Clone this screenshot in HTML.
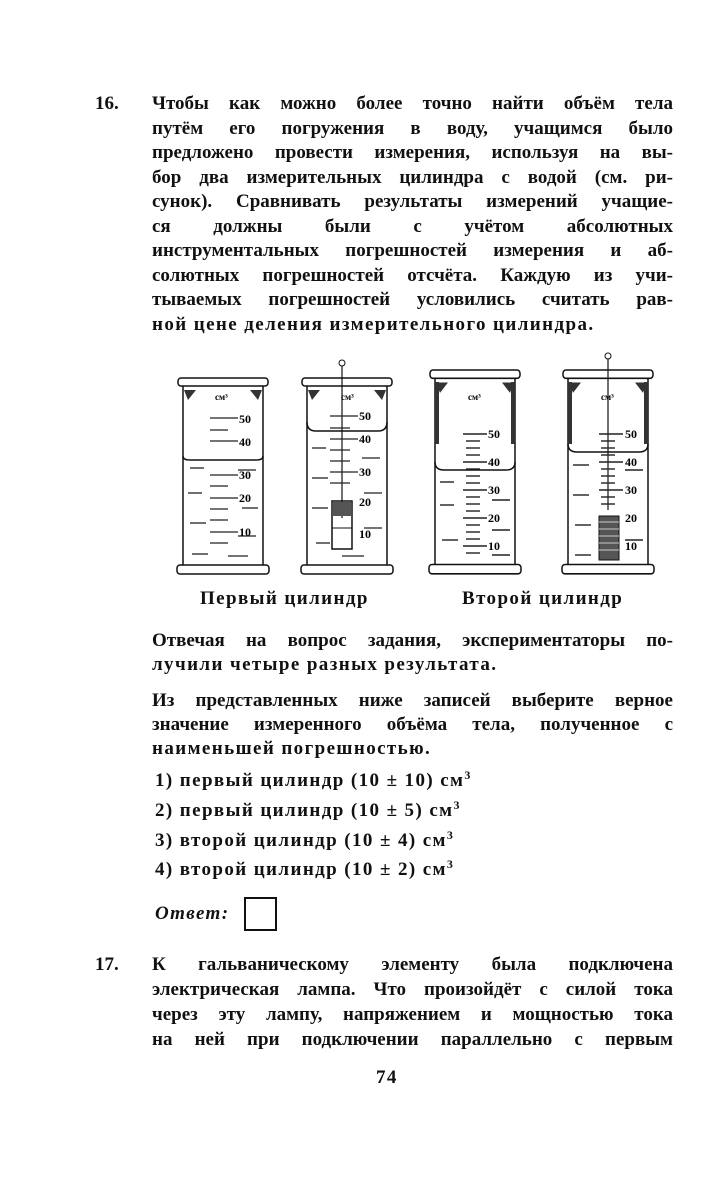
<!DOCTYPE html>
<html><head><meta charset="utf-8"><style>
body{margin:0;background:#fff;width:714px;height:1181px;position:relative;overflow:hidden;font-family:"Liberation Serif",serif;color:#111}
.l{position:absolute;left:152px;width:521px;font-size:19px;font-weight:bold;white-space:nowrap;text-align:justify;text-align-last:justify;line-height:22px}
.n{position:absolute;font-size:19px;font-weight:bold;line-height:22px}
.f{position:absolute;font-size:19px;font-weight:bold;white-space:nowrap;line-height:22px;letter-spacing:1.4px}
sup{font-size:12px;vertical-align:7px;line-height:0}
</style></head><body>
<div class="n" style="left:95px;top:93px">16.</div>
<div class="l" style="top:93px">Чтобы как можно более точно найти объём тела</div>
<div class="l" style="top:117.5px">путём его погружения в воду, учащимся было</div>
<div class="l" style="top:142px">предложено провести измерения, используя на вы-</div>
<div class="l" style="top:166.5px">бор два измерительных цилиндра с водой (см. ри-</div>
<div class="l" style="top:191px">сунок). Сравнивать результаты измерений учащие-</div>
<div class="l" style="top:215.5px">ся должны были с учётом абсолютных</div>
<div class="l" style="top:240px">инструментальных погрешностей измерения и аб-</div>
<div class="l" style="top:264.5px">солютных погрешностей отсчёта. Каждую из учи-</div>
<div class="l" style="top:289px">тываемых погрешностей условились считать рав-</div>
<div class="f" style="left:152px;top:313.5px">ной цене деления измерительного цилиндра.</div>

<svg style="position:absolute;left:0;top:0" width="714" height="600" font-family="Liberation Serif" font-size="12" font-weight="bold">
<defs>
<g id="cyl" fill="none" stroke="#111" stroke-width="1.5">
<rect x="0" y="0" width="90" height="8" rx="3"/>
<line x1="5" y1="8" x2="5" y2="187"/><line x1="85" y1="8" x2="85" y2="187"/>
<rect x="-1" y="187" width="92" height="9" rx="3"/>
<path d="M6 12 L18 12 L10 22 Z" fill="#333" stroke="none"/><path d="M84 12 L72 12 L80 22 Z" fill="#333" stroke="none"/>
</g>
</defs>
<g transform="translate(178,378)">
<use href="#cyl"/>
<path d="M5 78 Q5 82 12 82 L78 82 Q85 82 85 78" fill="none" stroke="#111" stroke-width="1.5"/>
<g stroke="#222" stroke-width="1.3">
<line x1="32" y1="40" x2="60" y2="40"/><line x1="32" y1="52" x2="50" y2="52"/><line x1="32" y1="63" x2="60" y2="63"/>
<line x1="32" y1="97" x2="60" y2="97"/><line x1="32" y1="108" x2="50" y2="108"/><line x1="32" y1="120" x2="60" y2="120"/>
<line x1="32" y1="131" x2="50" y2="131"/><line x1="32" y1="154" x2="60" y2="154"/><line x1="32" y1="165" x2="50" y2="165"/><line x1="32" y1="142" x2="50" y2="142"/>
<line x1="12" y1="90" x2="26" y2="90"/><line x1="60" y1="92" x2="78" y2="92"/><line x1="10" y1="115" x2="24" y2="115"/><line x1="64" y1="130" x2="80" y2="130"/><line x1="12" y1="145" x2="28" y2="145"/><line x1="60" y1="158" x2="78" y2="158"/><line x1="14" y1="176" x2="30" y2="176"/><line x1="50" y1="178" x2="70" y2="178"/>
</g>
<text x="37" y="22" font-size="9">см³</text>
<text x="61" y="45">50</text><text x="61" y="68">40</text><text x="61" y="101">30</text><text x="61" y="124">20</text><text x="61" y="158">10</text>
</g>
<g transform="translate(302,378)">
<use href="#cyl"/>
<circle cx="40" cy="-15" r="3" fill="none" stroke="#111"/><line x1="40" y1="-12" x2="40" y2="140" stroke="#111" stroke-width="1.2"/>
<path d="M5 44 Q5 53 14 53 L76 53 Q85 53 85 44" fill="none" stroke="#111" stroke-width="1.5"/>
<g stroke="#222" stroke-width="1.3">
<line x1="28" y1="38" x2="56" y2="38"/><line x1="28" y1="50" x2="48" y2="50"/><line x1="28" y1="61" x2="56" y2="61"/><line x1="28" y1="72" x2="48" y2="72"/><line x1="28" y1="83" x2="48" y2="83"/><line x1="28" y1="94" x2="56" y2="94"/><line x1="28" y1="105" x2="48" y2="105"/>
<line x1="10" y1="70" x2="24" y2="70"/><line x1="60" y1="80" x2="78" y2="80"/><line x1="10" y1="100" x2="26" y2="100"/><line x1="62" y1="115" x2="80" y2="115"/><line x1="10" y1="130" x2="26" y2="130"/><line x1="62" y1="150" x2="80" y2="150"/><line x1="14" y1="165" x2="28" y2="165"/><line x1="40" y1="178" x2="62" y2="178"/>
</g>
<rect x="30" y="123" width="20" height="48" fill="none" stroke="#111" stroke-width="1.5"/>
<rect x="31" y="124" width="18" height="14" fill="#555"/><line x1="30" y1="150" x2="50" y2="150" stroke="#111"/>
<text x="39" y="22" font-size="9">см³</text>
<text x="57" y="42">50</text><text x="57" y="65">40</text><text x="57" y="98">30</text><text x="57" y="128">20</text><text x="57" y="160">10</text>
</g>
<g transform="translate(430,370)">
<use href="#cyl" transform="scale(1,1.04)"/>
<path d="M5 92 Q5 100 14 100 L76 100 Q85 100 85 92" fill="none" stroke="#111" stroke-width="1.5"/>
<rect x="5" y="12" width="4" height="62" fill="#333"/><rect x="81" y="12" width="4" height="62" fill="#333"/>
<g stroke="#222" stroke-width="1.4">
<line x1="33" y1="64" x2="57" y2="64"/><line x1="36" y1="71" x2="50" y2="71"/><line x1="36" y1="78" x2="50" y2="78"/><line x1="36" y1="85" x2="50" y2="85"/><line x1="33" y1="92" x2="57" y2="92"/><line x1="36" y1="99" x2="50" y2="99"/><line x1="36" y1="106" x2="50" y2="106"/><line x1="36" y1="113" x2="50" y2="113"/><line x1="33" y1="120" x2="57" y2="120"/><line x1="36" y1="127" x2="50" y2="127"/><line x1="36" y1="134" x2="50" y2="134"/><line x1="36" y1="141" x2="50" y2="141"/><line x1="33" y1="148" x2="57" y2="148"/><line x1="36" y1="155" x2="50" y2="155"/><line x1="36" y1="162" x2="50" y2="162"/><line x1="36" y1="169" x2="50" y2="169"/><line x1="33" y1="176" x2="57" y2="176"/><line x1="36" y1="183" x2="50" y2="183"/>
<line x1="10" y1="112" x2="24" y2="112"/><line x1="62" y1="130" x2="80" y2="130"/><line x1="10" y1="135" x2="24" y2="135"/><line x1="62" y1="160" x2="80" y2="160"/><line x1="12" y1="170" x2="28" y2="170"/><line x1="62" y1="185" x2="80" y2="185"/>
</g>
<text x="38" y="30" font-size="9">см³</text>
<text x="58" y="68">50</text><text x="58" y="96">40</text><text x="58" y="124">30</text><text x="58" y="152">20</text><text x="58" y="180">10</text>
</g>
<g transform="translate(563,370)">
<use href="#cyl" transform="scale(1,1.04)"/>
<rect x="5" y="12" width="4" height="62" fill="#333"/><rect x="81" y="12" width="4" height="62" fill="#333"/>
<circle cx="45" cy="-14" r="3" fill="none" stroke="#111"/><line x1="45" y1="-11" x2="45" y2="140" stroke="#111" stroke-width="1.2"/>
<path d="M5 74 Q5 82 14 82 L76 82 Q85 82 85 74" fill="none" stroke="#111" stroke-width="1.5"/>
<g stroke="#222" stroke-width="1.4">
<line x1="36" y1="64" x2="60" y2="64"/><line x1="38" y1="71" x2="52" y2="71"/><line x1="38" y1="78" x2="52" y2="78"/><line x1="38" y1="85" x2="52" y2="85"/><line x1="36" y1="92" x2="60" y2="92"/><line x1="38" y1="99" x2="52" y2="99"/><line x1="38" y1="106" x2="52" y2="106"/><line x1="38" y1="113" x2="52" y2="113"/><line x1="36" y1="120" x2="60" y2="120"/><line x1="38" y1="127" x2="52" y2="127"/><line x1="38" y1="134" x2="52" y2="134"/>
<line x1="10" y1="95" x2="26" y2="95"/><line x1="62" y1="100" x2="80" y2="100"/><line x1="10" y1="125" x2="26" y2="125"/><line x1="12" y1="155" x2="28" y2="155"/><line x1="62" y1="170" x2="80" y2="170"/><line x1="12" y1="185" x2="28" y2="185"/>
</g>
<rect x="36" y="146" width="20" height="44" fill="#555" stroke="#111"/>
<g stroke="#ccc" stroke-width="1"><line x1="36" y1="152" x2="56" y2="152"/><line x1="36" y1="159" x2="56" y2="159"/><line x1="36" y1="166" x2="56" y2="166"/><line x1="36" y1="173" x2="56" y2="173"/><line x1="36" y1="180" x2="56" y2="180"/></g>
<text x="38" y="30" font-size="9">см³</text>
<text x="62" y="68">50</text><text x="62" y="96">40</text><text x="62" y="124">30</text><text x="62" y="152">20</text><text x="62" y="180">10</text>
</g>
</svg>

<div class="f" style="left:200px;top:588px">Первый цилиндр</div>
<div class="f" style="left:462px;top:588px">Второй цилиндр</div>

<div class="l" style="top:630px">Отвечая на вопрос задания, экспериментаторы по-</div>
<div class="f" style="left:152px;top:654px">лучили четыре разных результата.</div>
<div class="l" style="top:690px">Из представленных ниже записей выберите верное</div>
<div class="l" style="top:714px">значение измеренного объёма тела, полученное с</div>
<div class="f" style="left:152px;top:738px">наименьшей погрешностью.</div>
<div class="f" style="left:155px;top:770px">1) первый цилиндр (10 ± 10) см<sup>3</sup></div>
<div class="f" style="left:155px;top:800px">2) первый цилиндр (10 ± 5) см<sup>3</sup></div>
<div class="f" style="left:155px;top:830px">3) второй цилиндр (10 ± 4) см<sup>3</sup></div>
<div class="f" style="left:155px;top:859px">4) второй цилиндр (10 ± 2) см<sup>3</sup></div>
<div class="f" style="left:155px;top:903px;font-style:italic">Ответ:</div>
<div style="position:absolute;left:244px;top:897px;width:29px;height:30px;border:2px solid #111"></div>

<div class="n" style="left:95px;top:954px">17.</div>
<div class="l" style="top:954px">К гальваническому элементу была подключена</div>
<div class="l" style="top:979px">электрическая лампа. Что произойдёт с силой тока</div>
<div class="l" style="top:1004px">через эту лампу, напряжением и мощностью тока</div>
<div class="l" style="top:1029px">на ней при подключении параллельно с первым</div>
<div class="f" style="left:376px;top:1067px">74</div>
</body></html>
